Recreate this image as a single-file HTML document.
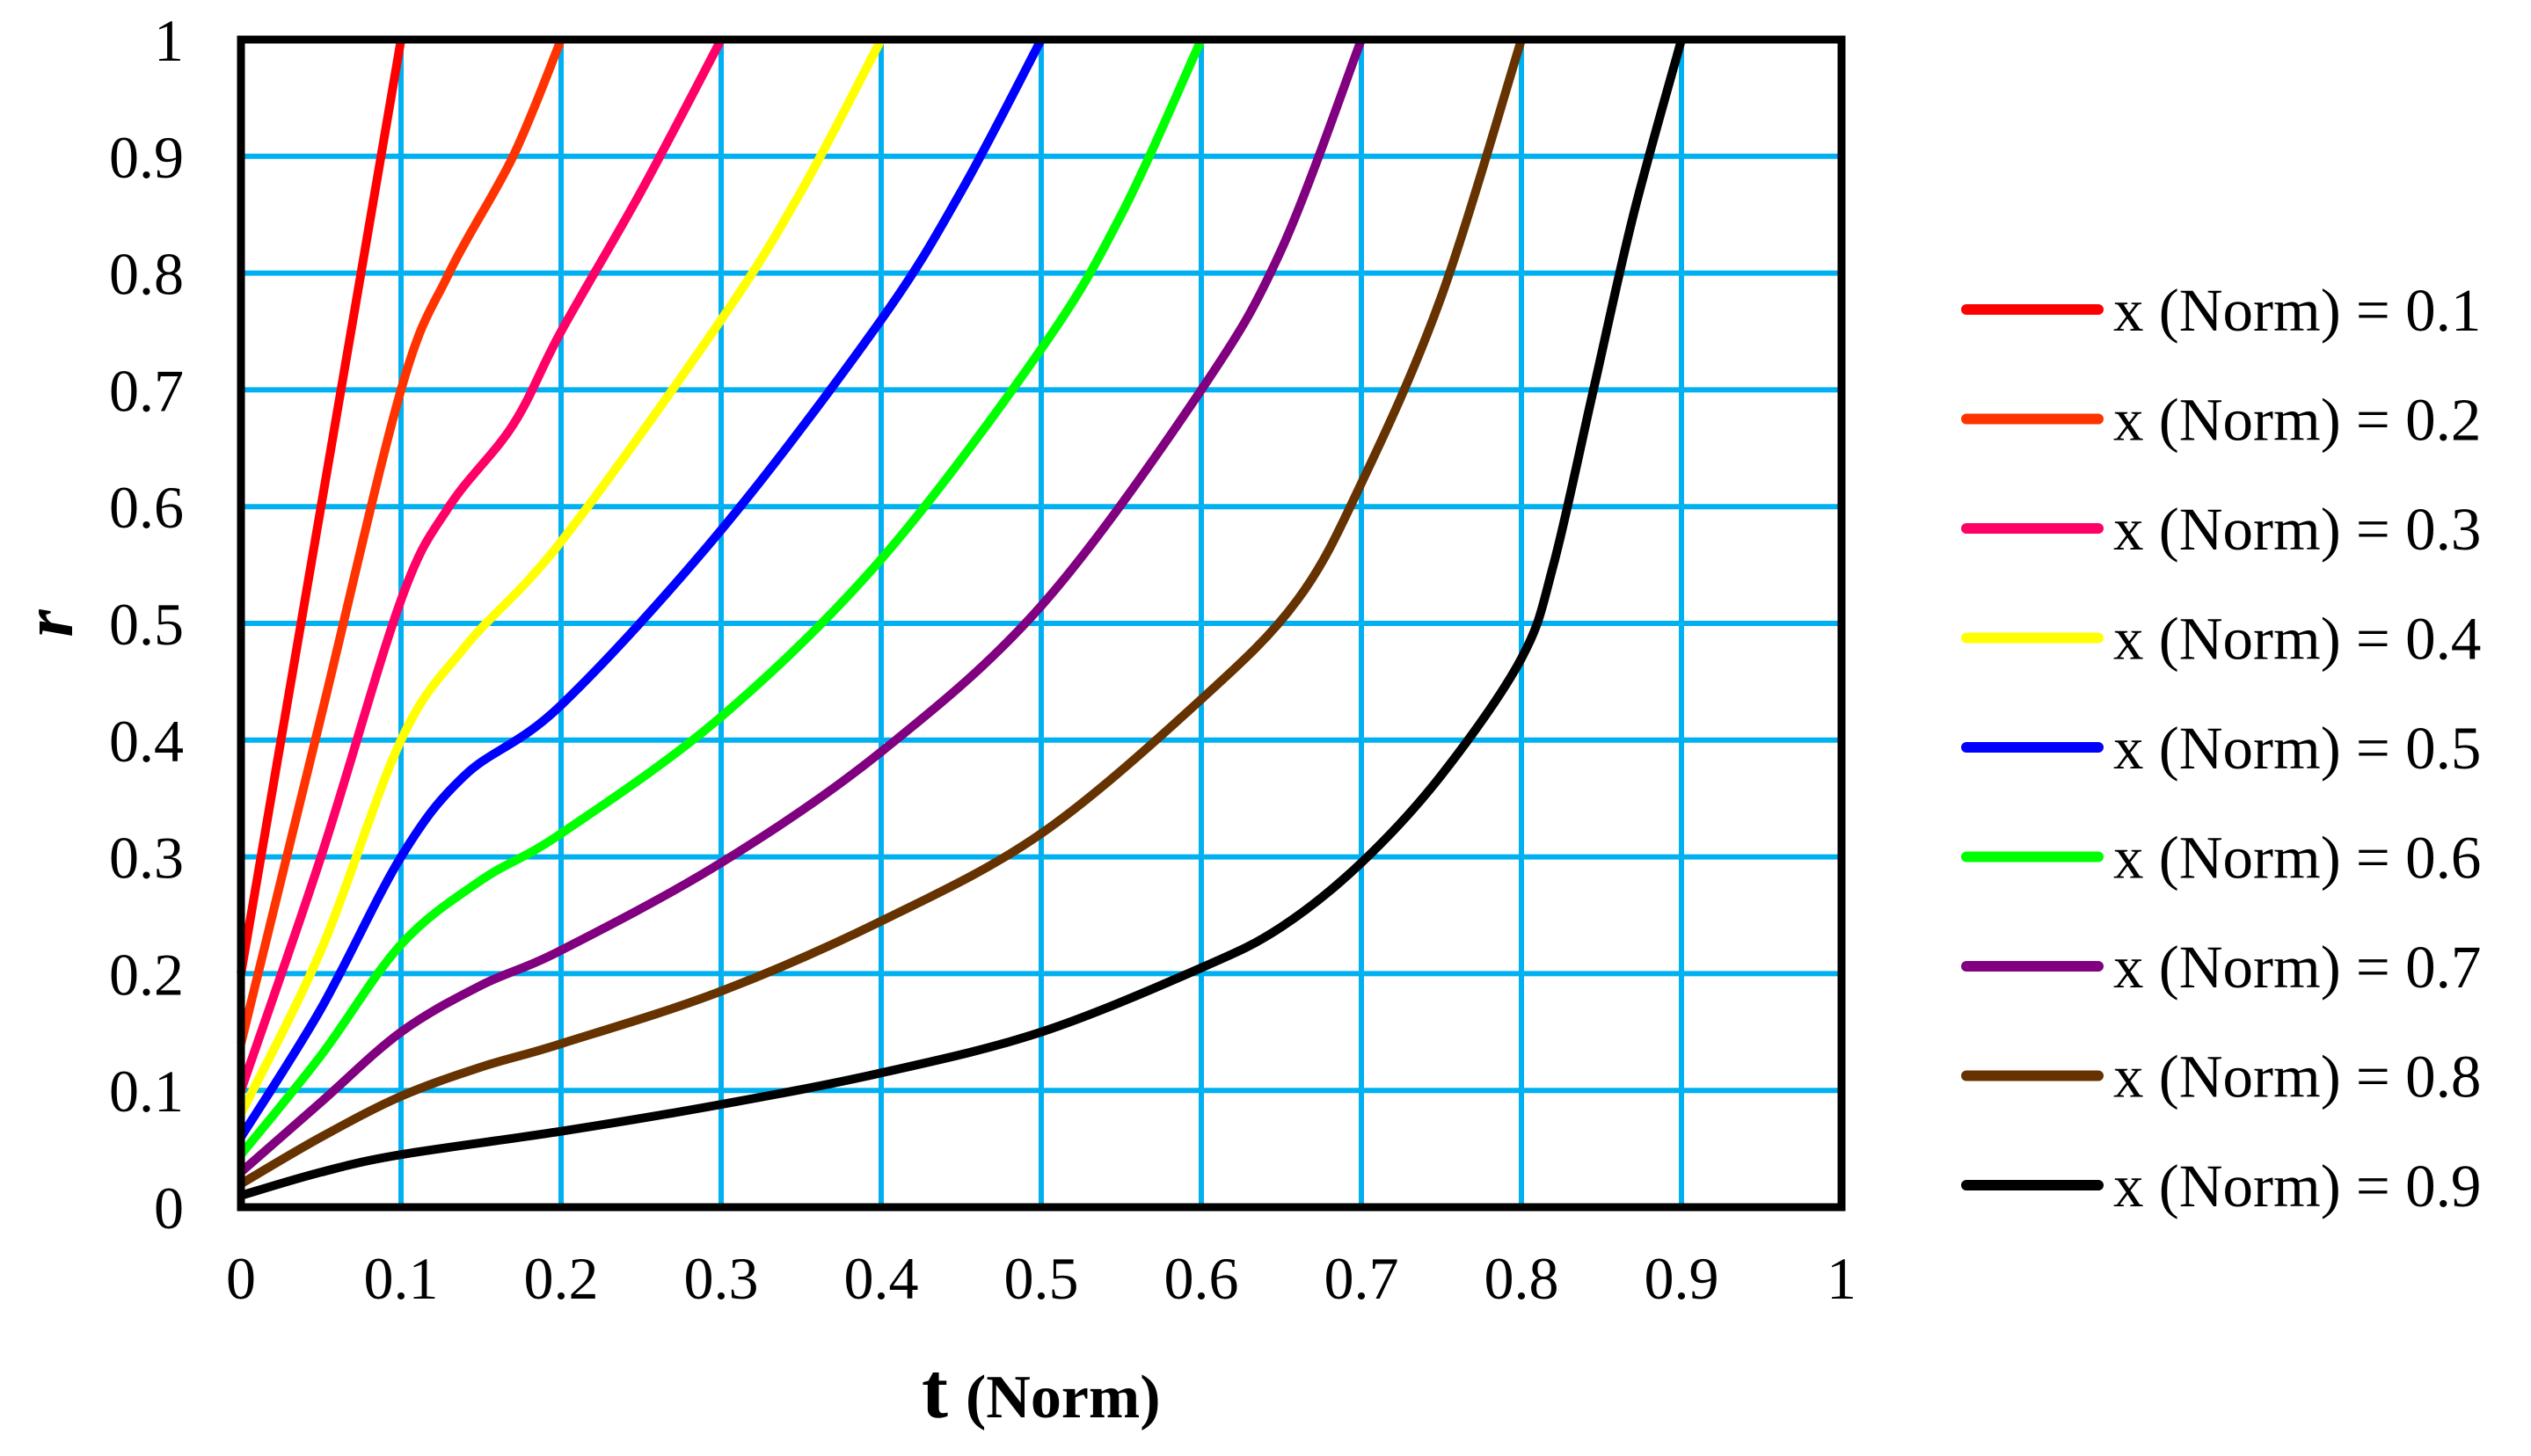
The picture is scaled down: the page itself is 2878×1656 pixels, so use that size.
<!DOCTYPE html>
<html><head><meta charset="utf-8"><style>
html,body{margin:0;padding:0;background:#fff;}
svg{display:block;}
text{font-family:"Liberation Serif",serif;fill:#000;}
</style></head><body>
<svg id="chart" width="2878" height="1656" viewBox="0 0 2878 1656" xmlns="http://www.w3.org/2000/svg">
<g id="grid"></g>
<g id="series"></g>
<rect x="274" y="45" width="1820" height="1328" fill="none" stroke="#000" stroke-width="9"/>
<g id="yticks"></g>
<g id="xticks"></g>
<text transform="translate(82,709) rotate(-90)" text-anchor="middle" font-size="80" font-weight="bold" font-style="italic">r</text>
<text x="1048" y="1612" font-size="90" font-weight="bold">t<tspan font-size="70" dx="20">(Norm)</tspan></text>
<g id="legend"></g>
</svg>
<script>
const ticks=[0,0.1,0.2,0.3,0.4,0.5,0.6,0.7,0.8,0.9,1];
const tickLabels=["0","0.1","0.2","0.3","0.4","0.5","0.6","0.7","0.8","0.9","1"];
const seriesNames=["x (Norm) = 0.1","x (Norm) = 0.2","x (Norm) = 0.3","x (Norm) = 0.4","x (Norm) = 0.5","x (Norm) = 0.6","x (Norm) = 0.7","x (Norm) = 0.8","x (Norm) = 0.9"];
const s1=[[0,0.2],[0.03,0.44],[0.06,0.68],[0.1,1.0]];
const s2=[[0,0.14],[0.05,0.42],[0.1,0.70],[0.13,0.80],[0.17,0.90],[0.2,1.0]];
const s3=[[0,0.1],[0.05,0.3],[0.1,0.52],[0.13,0.60],[0.17,0.67],[0.2,0.75],[0.25,0.87],[0.3,1.0]];
const s4=[[0,0.08],[0.05,0.22],[0.1,0.4],[0.14,0.48],[0.2,0.57],[0.3,0.76],[0.35,0.87],[0.4,1.0]];
const s5=[[0,0.06],[0.05,0.17],[0.1,0.3],[0.14,0.37],[0.2,0.43],[0.3,0.58],[0.4,0.76],[0.45,0.87],[0.5,1.0]];
const s6=[[0,0.045],[0.05,0.13],[0.1,0.225],[0.15,0.28],[0.2,0.32],[0.3,0.42],[0.4,0.555],[0.5,0.735],[0.55,0.85],[0.6,1.0]];
const s7=[[0,0.03],[0.05,0.09],[0.1,0.15],[0.15,0.19],[0.2,0.22],[0.3,0.295],[0.4,0.39],[0.5,0.515],[0.6,0.7],[0.65,0.82],[0.7,1.0]];
const s8=[[0,0.02],[0.05,0.06],[0.1,0.095],[0.15,0.12],[0.2,0.14],[0.3,0.185],[0.4,0.245],[0.5,0.32],[0.6,0.435],[0.66,0.52],[0.7,0.62],[0.75,0.78],[0.8,1.0]];
const s9=[[0,0.01],[0.05,0.03],[0.1,0.045],[0.2,0.065],[0.3,0.088],[0.4,0.115],[0.5,0.15],[0.6,0.205],[0.65,0.24],[0.7,0.295],[0.75,0.37],[0.8,0.47],[0.82,0.55],[0.845,0.7],[0.87,0.85],[0.9,1.0]];
const allSeries=[s1,s2,s3,s4,s5,s6,s7,s8,s9];
const colors=["#ff0000","#ff3300","#ff0066","#ffff00","#0000ff","#00ff00","#800080","#663300","#000000"];

const NS="http://www.w3.org/2000/svg";
const X0=274,X1=2094,Y0=1373,Y1=45;
function xs(v){return X0+(X1-X0)*v;}
function ys(v){return Y0-(Y0-Y1)*v;}
function mk(tag,parent){const e=document.createElementNS(NS,tag);document.getElementById(parent).appendChild(e);return e;}

ticks.forEach((t,i)=>{
  if(i>0&&i<ticks.length-1){
    const v=mk('line','grid');
    
    
    v.setAttribute('x1',xs(t));v.setAttribute('x2',xs(t));v.setAttribute('y1',ys(0));v.setAttribute('y2',ys(1));
    v.setAttribute('stroke','#00b0f0');v.setAttribute('stroke-width','6');
    const h=mk('line','grid');
    
    
    h.setAttribute('y1',ys(t));h.setAttribute('y2',ys(t));h.setAttribute('x1',xs(0));h.setAttribute('x2',xs(1));
    h.setAttribute('stroke','#00b0f0');h.setAttribute('stroke-width','6');
  }
  const yl=mk('text','yticks');
  
  
  yl.setAttribute('x',209);yl.setAttribute('y',ys(t)+24);yl.setAttribute('text-anchor','end');yl.setAttribute('font-size','68');
  yl.textContent=tickLabels[i];
  const xl=mk('text','xticks');
  
  
  xl.setAttribute('x',xs(t));xl.setAttribute('y',1477);xl.setAttribute('text-anchor','middle');xl.setAttribute('font-size','68');
  xl.textContent=tickLabels[i];
});

function smooth(pts){
  const p=pts.map(d=>[xs(d[0]),ys(d[1])]);
  let s='M'+p[0][0]+','+p[0][1];
  for(let i=0;i<p.length-1;i++){
    const a=p[Math.max(0,i-1)],b=p[i],c=p[i+1],d=p[Math.min(p.length-1,i+2)];
    const c1=[b[0]+(c[0]-a[0])/6,b[1]+(c[1]-a[1])/6];
    const c2=[c[0]-(d[0]-b[0])/6,c[1]-(d[1]-b[1])/6];
    s+=' C'+c1[0]+','+c1[1]+' '+c2[0]+','+c2[1]+' '+c[0]+','+c[1];
  }
  return s;
}
allSeries.forEach((pts,i)=>{
  const p=mk('path','series');
  
  
  p.setAttribute('d',smooth(pts));p.setAttribute('fill','none');
  p.setAttribute('stroke',colors[i]);p.setAttribute('stroke-width','10');p.setAttribute('stroke-linejoin','round');
  const ly=352+i*124.5;
  const l=mk('line','legend');
  
  
  l.setAttribute('x1',2236);l.setAttribute('x2',2386);l.setAttribute('y1',ly);l.setAttribute('y2',ly);
  l.setAttribute('stroke',colors[i]);l.setAttribute('stroke-width','12');l.setAttribute('stroke-linecap','round');
  const t=mk('text','legend');
  
  
  t.setAttribute('x',2403);t.setAttribute('y',ly+24);t.setAttribute('font-size','69');
  t.textContent=seriesNames[i];
});
</script>
</body></html>
